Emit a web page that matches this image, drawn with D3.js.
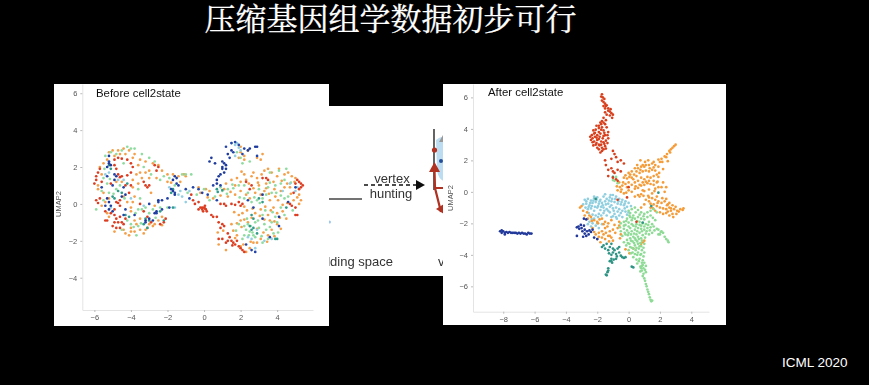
<!DOCTYPE html>
<html>
<head>
<meta charset="utf-8">
<script src="https://cdn.jsdelivr.net/npm/d3@7"></script>
<style>
	html, body { margin: 0; background: #000; overflow: hidden; }
	svg { display: block; }
	.tick text { font-family: "Liberation Sans", sans-serif; font-size: 7.5px; fill: #555; }
	.tick line { stroke: #bbb; }
	.domain { stroke: #e4e4e4; }
	.panel-label { font-family: "Liberation Sans", sans-serif; font-size: 11.4px; fill: #111; }
	.axis-label { font-family: "Liberation Sans", sans-serif; font-size: 7.5px; fill: #555; }
	.title { font-family: "Noto Serif CJK SC", "Noto Sans CJK SC", serif; font-size: 31px; fill: #fff; stroke: #fff; stroke-width: 0.3px; }
	.credit { font-family: "Liberation Sans", sans-serif; font-size: 13.5px; fill: #fff; }
	.frag-text { font-family: "Liberation Sans", sans-serif; font-size: 13px; fill: #333; }
</style>
</head>
<body>
<div id="chart"></div>
<script>
const titleText = '压缩基因组学数据初步可行';
const creditText = 'ICML 2020';
const yLabel = 'UMAP2';
const beforeTicksX = [-6, -4, -2, 0, 2, 4];
const beforeTicksY = [-4, -2, 0, 2, 4, 6];
const afterTicksX = [-8, -6, -4, -2, 0, 2, 4];
const afterTicksY = [-6, -4, -2, 0, 2, 4, 6];

// values, flat x,y pairs
const beforeRed = [-5.9,1.3,-6,1.1,-5.9,1.5,-5.8,1.7,-5.7,1.9,-5.6,1.2,-5.9,0.2,-5.8,0.05,-5.7,0.3,-5.4,-0.4,-5.4,-0.9,-4.9,2.4,-4.7,2.5,-4.5,2.45,-4.2,2.4,-4,2.2,-3.9,2,-4,1.7,-4.2,1.55,-4.5,1.5,-4.7,1.6,-4.8,1.9,-4.9,2.1,-4.6,1.45,-4.9,-0.6,-4.8,-0.8,-4.6,-0.7,-4.7,-1,-4.5,-1,-4.9,-1,-5,-1.2,-4.8,-1.3,-4.6,-1.3,-4.4,-1.1,-4.3,-0.8,-4.9,-0.3,-4.6,-0.1,-3.3,1.2,-3.2,1,-3,1,-3.1,0.9,-2.7,2.1,-2.5,2,-2.6,1.8,-3.5,0,-3.3,-0.4,-3.1,-0.7,-2.1,-0.8,-2.2,-1,-2.4,-1.1,-2.9,-1,-5.3,-0.9,-5.1,-0.5,-4.6,0.2,-4.7,0.05,-4.8,0.1,-4.1,0.6,-4,1,-4.3,1,-5.1,1.1,-0.7,0.5,-0.6,0.2,-0.5,0,-0.3,0.1,-0.2,-0.2,-0.1,-0.3,0,-0.2,0.1,-0.3,0.05,-0.1,-0.05,-0.4,0.15,-0.4,-0.3,-0.3,-0.1,-0.2,0.05,-0.25,0.4,-0.6,0.5,-0.7,0.7,-0.7,0.8,-1,1,-1.1,0.9,-1.3,1.1,-1.2,1.3,-1.6,1.4,-1.8,1.5,-2,1.3,-2,1.6,-2.1,1.7,-2.2,1.8,-2,1.55,-2.25,1.9,-2.3,2,-2.4,1,-1.9,0.8,-1.9,1.2,-2.1,2.1,-2.5,2.2,-2.6,0.9,0,1.1,0,1.2,-0.1,1.5,0,1.7,-0.05,2,-0.1,2.1,0,1.9,0.1,5.2,1.2,5.3,1.1,5.4,1,5.1,1.3,5,1.1,5.3,0.9,5.2,0.8,4.9,0.6,4.7,0,4.8,-0.1,5,-0.2,5.1,-0.6,5,-0.6,3.4,1.4,3.5,1.3,3.2,1.4,2.3,1.2,2.6,1,2.5,0.8];
const beforeOrange = [-5.7,2,-5.6,1.6,-5.2,2.8,-5,2.9,-4.7,2.9,-4.4,3,-4.1,2.9,-3.8,2.7,-3.5,2.4,-3.2,2.3,-2.8,2.2,-2.5,2.1,-2.3,1.8,-2,1.6,-1.7,1.6,-1.4,1.5,-1.1,1.6,-1.3,1.2,-5.8,0.8,-5.5,0.6,-5.4,0.1,-5.2,-0.7,-4.4,0.4,-4.2,0.1,-4,-0.2,-4,-1.5,-4.3,-1.6,-4.1,-1.7,-3.8,-1.5,-3.5,-1.4,-3.3,-1.6,-3.2,-1.4,-3,-1.1,-2.7,-1.1,-2.5,-0.9,-3.8,0.4,-3.9,0.9,-3.4,1.4,-3.6,1.1,-1,1.5,-0.3,0.9,-0.2,0.6,0.1,0.8,0.3,0.7,0.5,0.3,1.1,0.8,1.5,1.3,1.7,1,1.8,1.4,2,1.2,2.2,1.6,2.3,1.3,2.6,1.5,2.7,1.7,2.9,1.4,3,1,3.3,1.8,3.5,1.9,3.7,1.7,3.8,1.2,4,1.5,4.1,1.9,4.4,1.6,4.6,1.7,4.8,1.5,5,1.4,5.2,0.5,5.3,0.2,5.2,0,4.4,0.9,4.2,0.7,3.9,0.4,3.6,0.2,3.3,0.7,3.1,0.5,2.8,0.6,2.5,0.3,2.3,0.5,2,0.7,1.7,0.5,2.1,-0.5,2,-0.9,1.9,-0.6,2.4,-1,2.8,-0.5,3.1,-0.3,3.5,-0.6,3.8,-0.2,4,-0.5,4.3,-0.4,4.5,-0.8,4,-1.1,3.7,-1.4,3.5,-1.7,3.1,-1.9,2.9,-2.1,2.5,-2.4,2.3,-2.6,2,-2.3,1.8,-1.7,1.5,-1.1,1.2,-2.5,0.8,-2.2,2,2.8,2.2,2.6,2.4,2.9,2.2,2.4,1.9,2.5,2,3.1,2.9,2.5,3.2,2.7,3.1,2.4,3.4,1.1,3.6,-0.9,4.7,0.9,4.9,0.2,2.7,-2.1];
const beforeOrangeMore = [-5.8,1,-5.5,2.2,-5.3,2.4,-4.9,2.6,-4.6,2.7,-4.3,2.7,-3.9,2.5,-3.6,2.1,-3.7,1.6,-3.5,1.7,-3.9,1.3,-4.5,1.2,-4.8,1.2,-5.2,0.3,-5.6,-0.1,-5.3,-0.5,-4.9,-1.5,-4.4,-1.4,-4,-1.3,-3.7,-1.1,-3.5,-0.8,-3.8,-0.9,-4,-0.4,-3.9,0.1,-3.1,-1.3,-2.8,-1.2,-2.3,-1.15,-2.3,-0.7,-2.7,-0.1,-2.9,0.6,-3,1.4,-3.2,1.7,-3,1.8,-2.6,1.4,-2,1.2,-1.8,1.15,0.2,0.35,0.9,0.45,1.3,0.4,1.2,1.1,1.45,0.65,2.05,1.75,2.45,1.1,2.7,0.85,2.95,1.15,3.15,1.6,3.4,0.85,3.55,0.55,3.85,0.8,4.05,0.2,4.25,1.25,4.55,1.1,4.75,0.55,4.95,1.2,5.1,0.35,4.55,0.05,4.3,-0.05,4.15,-0.75,3.85,-0.95,3.65,-0.35,3.35,-0.15,3.3,-0.85,3.05,-0.65,2.65,-0.25,2.35,-0.35,2.2,-0.15,1.65,-0.45,1.8,-1.05,1.6,-1.45,2.05,-1.25,2.2,-0.85,2.6,-0.75,2.9,-1.35,3.25,-1.55,3.45,-2.05,3.85,-1.75,4.2,-1.35,2.55,-2.05,2.15,-2.2,1.7,-1.85,1.05,-1.45,0.75,-1.55];
const beforeGreen = [-5.4,2.6,-5.1,2.8,-4.8,2.7,-4.5,2.9,-4.2,3.1,-4,3,-3.8,3,-3.4,2.7,-3,2.5,-2.7,2.3,-5.5,1.4,-5.3,1.1,-5.2,0.6,-5.6,0.7,-5.5,0.2,-5.9,-0.3,-4.8,0.8,-4.6,1,-3.6,0.8,-3.5,0.3,-3.4,-0.3,-3.6,-0.3,-3.2,-0.2,-3,-0.5,-2.8,-0.3,-2.4,-0.2,-2,-0.2,-4.2,-0.9,-4,-1.1,-4.5,-1.4,-3.7,-1.7,-3.6,-1.2,-1.9,1.4,-1.6,1,-1.2,1.6,-1,1.6,-0.7,1.6,-2.2,1.5,-2.4,1.3,-0.9,0.6,-0.4,0.5,0,0.8,0.3,0.2,0.6,0.4,0.9,0.9,1,0.7,1.3,0.8,1.6,0.85,1.9,1,2.2,0.3,2.6,0.1,2.9,0.2,3,0.8,3.2,0.3,3.4,0.5,3.5,0.9,3.7,0.6,3.9,1,4.2,1.1,4.4,1.3,4.1,1.8,4.5,1.9,3.6,1.7,2.8,-1,2.4,-1.1,2.3,-1.4,2.5,-1.5,2.7,-1.7,3,-1.3,3.3,-1.1,3.4,-1.4,3.7,-1,3.9,-0.7,2.2,-1.7,1.9,-1.1,2.1,-1.9,2.8,-1.8,3.2,-2.1,3.5,-1.9,3.8,-1.6,4,-1,4.2,-0.2,4.4,0.3,4.6,0.4,2,2.5,2.1,2.2,2.5,2.3,1.8,2.8];
const beforeGreenMore = [-5.45,1.9,-4.4,2.2,-4.95,0.55,-4.35,0.3,-3.75,-0.5,-3.85,-1.25,-3.45,-1.05,-2.65,-0.75,-5.15,1.35,-3.3,2,-2.9,1.6,1.25,0.55,1.55,1.05,2.4,0.6,2.75,0.35,3.05,0.05,3.35,-0.35,3.6,1.15,3.95,0.6,4.2,0.45,4.4,-0.6,3.75,-0.45,3.2,-0.6,2.95,-0.9,2.55,-1.2,2.35,-0.8,2.65,-1.55,3.15,-1.75,3.6,-1.25,4.05,-1.55,1.75,-1.45,2.45,-1.7,2.2,-1.2,1.95,0.35,2.2,1,4.75,1.15,4.85,-0.35];
const beforeBlue = [-5.6,0.9,-5.3,1.5,-5,1,-4.9,1.6,-4.4,0.9,-5.2,2.3,-4.3,-0.3,-4.4,-0.6,-5.4,-0.1,-3,0,-2.5,0.1,-2.3,-0.3,-2.6,-0.5,-2,0.3,-1.8,0.8,-1.6,0.6,-1.5,1.1,-1,0.8,-0.6,0.9,-0.3,0.8,-0.1,0.6,-0.8,0.3,1.2,3.1,1.5,3.3,1.7,3.35,1.9,3.2,1.6,2.8,2.1,2.7,2.2,3,1.4,2.5,0.7,0.2,0.9,1,2.4,0.2,2.7,-0.2,3.2,-0.8,3.6,-1.8,4.1,-1.2,4.6,0.1,5,0.9,-3.8,-0.6,-3.2,-1,-1.9,-0.2,0.5,1,0.2,0.5,2.3,-2.2,2.6,-2.5,2.8,-2.6,2.9,2.6];
const beforeTeal = [-5.2,2.1,-5.1,1.9,-4.7,0.7,-4.5,0.6,-4.3,-0.6,-4.1,-0.7,-3.3,-1.1,-3.2,-0.8,-3.1,-1.3,-3,-0.9,-2.4,-0.4,-1.7,0.8,-1.8,0.6,-1.7,-0.2,0.7,0.8,0.75,0.65,1,0.75,2.6,-0.6,2.7,-0.8,2.5,-1.2,2.6,-1.4,2.7,-1.3,2.9,-1.6,3,0.3,3.2,0.1,3.9,-1.9,4,-1.9,4.5,-0.2,-5,0.4,-4.9,0.3,-4.2,1.1,-2.2,-0.9];
const beforeNavy = [-5.2,2.6,-5.2,2.2,-5.1,2.1,-5.3,2,-4.9,1.3,-4.8,1.5,-5.3,0.3,-5.2,0.1,-5.1,-0.1,-5.2,-0.3,-5,-0.4,-4.5,0.4,-4.3,0.5,-3.2,-0.9,-3,-0.8,-2.8,-0.9,-2.7,-0.5,-2.6,-0.4,-2.5,0.2,-2.3,0.2,-1.7,1.3,-1.6,1.5,-1.5,1.4,-1.4,1,-1.7,0.7,-1.6,0.5,1,2.3,1,2,1.1,2.2,1,1.9,1.1,1.7,1.2,1.9,1.2,2.1,0.9,1.6,0.8,1.5,0.7,1.3,0.7,1.1,0.4,2.5,0.3,2.3,0.6,2.2,1.5,2.9,1.3,2.7,2.4,2.9,2.5,3,2.8,3.1,2.9,3.1,3.2,0.5,4.1,-0.7];
const beforeLight = [-5.2,1.7,-5.4,1.6,-4.7,1.3,-4.4,1.3,-5.1,-0.2,-4,0.3,-3.3,-0.1,-1.9,0.9,-1.4,0.5,-1.2,0.4,-1,0.1,-0.8,0.7,-1.3,0.7,-1.6,-0.2,1.5,3.3,1.8,3.3,1.9,3.05,1.7,3.2,2,2.9,1.7,2.6,5.1,0.9,5,0.7,4.7,1.1,3.3,-2,3.7,-1.9,2.4,-1.8,2.6,-1.9,2.8,-2.4,2.9,-1.4,4.3,0.7];

const afterRed = [-1.7,6.2,-1.65,6,-1.7,5.8,-1.6,5.7,-1.5,5.6,-1.4,5.5,-1.5,5.3,-1.3,5.3,-1.2,5.1,-1.1,5,-1,4.9,-1.05,4.7,-1.4,4.9,-1.6,4.7,-1.7,4.5,-1.8,4.4,-1.9,4.2,-1.7,4.1,-1.5,4.3,-1.4,4.1,-1.6,3.9,-1.3,3.8,-1.5,3.6,-1.3,3.4,-1.35,3.1,-1.5,2.9,-1.7,2.6,-1.8,2.5,-1.7,2.8,-1.9,2.7,-1.9,3,-2,2.8,-2.1,3,-2.2,3.2,-2.3,3.4,-2.4,3.3,-2.35,3.6,-2.2,3.7,-2.25,3.9,-2.1,3.95,-2.15,3.5,-2,3.6,-2,3.3,-1.85,3.5,-1.8,3.7,-1.65,3.4,-1.6,3.15,-1.75,3.2,-1.9,3.8,-1.55,3.05,-1,2.6,-0.9,2.4,-0.8,2.2,-0.5,2,-0.3,1.8,-1.5,2,-1.45,1.7,-1.3,1.4,-1.1,1.5,-1,1.3,-0.9,1.2,-0.7,1.4,-0.5,1.3,-1.3,1,-1,0.9,-0.8,0.8,-0.7,0.7,-1.1,2.1,-0.7,1.9,0.5,-1.9,-0.7,-0.5,0,0.3,-0.1,-0.35];
const afterRedMore = [-1.75,6.05,-1.55,5.9,-1.6,5.45,-1.45,5.45,-1.3,5.15,-1.15,5.25,-1.2,4.85,-1.5,5.05,-1.6,4.4,-1.45,4.55,-1.75,4.3,-2.05,4.2,-1.9,4.05,-2.15,3.75,-1.55,3.75,-1.75,3.95,-2.3,3.15,-2.05,3.1,-1.85,2.95,-2.25,2.95,-2.05,3.45,-1.75,3,-1.6,2.7,-1.45,3.25,-1.45,2.75,-1.6,3.55,-1.35,3.6,-2.45,3.5,-1.9,3.35];
const afterOrange = [3,3,2.9,2.9,2.8,2.8,2.7,2.7,2.6,2.6,2.65,2.5,2.45,2.4,2.3,2.25,2.4,2.2,2.1,2.1,2,1.9,1.9,2.05,1.6,1.9,1.7,1.7,1.5,1.8,1.3,1.7,1,1.6,0.9,1.7,0.8,1.6,0.6,1.5,0.4,1.5,0.2,1.3,0.1,1.1,0,1.2,-0.2,1.05,-0.3,0.9,-0.1,0.85,0.2,0.9,0.35,1.1,0.5,1,0.7,1.2,0.9,1.3,1.1,1.35,1.3,1.3,1.5,1.4,1.7,1.35,1.8,1.1,1.95,1.2,1.9,1.6,1.6,1,1.4,0.9,1.2,0.95,1,0.8,0.8,0.9,0.6,0.7,0.4,0.6,0.2,0.45,0,0.6,-0.2,0.5,-0.4,0.4,-0.55,0.3,-0.7,0.1,-0.5,0,-0.3,-0.1,0,0.1,0.2,0,0.4,0.2,0.6,0.25,0.8,0.4,1,0.45,1.2,0.55,1.4,0.5,1.6,0.7,1.8,0.6,1.7,0.2,1.5,-0.1,1.3,0.15,1,0.05,0.8,-0.15,0.6,-0.2,0.4,-0.3,2.4,0.3,2.3,0,2.1,0.3,1.1,-0.5,1.3,-0.6,1.5,-0.4,1.7,-0.5,1.9,-0.6,2.1,-0.7,2.3,-0.6,2.5,-0.8,1.6,-0.8,1.8,-0.9,2,-1,2.2,-1.05,2.4,-1.1,2.6,-1,2.7,-1.2,2.9,-1.1,3.1,-1.2,3.3,-1.1,3.45,-1.15,3.5,-1.05,3.2,-1.25,2.8,-1.4,2.6,-1.5,2.4,-1.35,2.2,-1.4,2,-1.3,1.7,-1.2,1.4,-1,1,-0.8,0.8,-1,-3.1,-1,-3,-0.9,-2.9,-1.2,-2.8,-1.5,-2.6,-1.7,-2.4,-1.6,-2.2,-1.8,-2,-1.9,-1.7,-1.7,-1.5,-1.9,-1.3,-2,-1.1,-1.8,-0.9,-2.1,-0.7,-2.3,-1,-2.4,-1.2,-2.5,-1.5,-2.3,-1.7,-2.5,-1.9,-2.6,-2.1,-2.7,-2,-3,-1.7,-2.9,-1.5,-3,-1.3,-2.8,-1.1,-2.9,-1,-3.1,-1.8,-3.2,-0.5,-2.7,-2.3,-2.3,-0.6,-1.9,0.9,-3.2,1,-3.1,0.8,-3.3,0.05,-3.9];
const afterOrangeMore = [0.75,2,1.05,1.9,1.25,2,1.6,1.55,1.35,1.5,1.1,1.7,0.75,1.4,0.5,1.3,0.55,1.7,0.3,0.8,0.05,0.95,-0.1,0.3,-0.35,0.6,-0.6,0.6,-0.75,0.35,-0.45,0.15,-0.15,-0.05,0.45,0.35,0.7,0.45,0.9,0.6,1.1,0.65,1.3,0.7,1.6,0.45,1.85,0.65,1.9,0.95,2.2,1.45,2.15,1.9,2.5,1.95,2.2,0.6,0.7,-0.3,0.95,-0.25,1.25,-0.25,0.9,0.1,1.65,0.05,1.9,0.3,1.8,-0.3,2.15,-0.4,2.4,-0.45,2.6,-0.7,2.8,-0.85,3,-0.95,2.45,-0.85,3.05,-1.4,2.85,-1.6,2.5,-1.25,1.55,-1.05,1.85,-0.7,1.4,-0.75,2.7,-1.05,1.3,-0.35,-2.65,-1.3,-2.5,-1.5,-2.35,-1.85,-1.95,-2,-1.85,-1.75,-1.35,-2.2,-1.6,-2.05,-1.2,-2.8,-1.6,-2.7,-1.9,-2.85,-0.85,-2.6,-0.6,-2.15,-0.55,-2.95,-1.45,-2.6,-1.25,-3.15,-2.2,-2.55,-0.2,-3.65,0.3,-3.6];
const afterLight = [-2.8,-0.5,-2.6,-0.45,-2.4,-0.55,-2.2,-0.4,-2,-0.35,-1.8,-0.5,-1.6,-0.3,-1.4,-0.45,-1.2,-0.35,-1,-0.2,-0.8,-0.3,-0.6,-0.45,-0.4,-0.5,-0.2,-0.6,0,-0.7,-2.9,-0.8,-2.7,-0.75,-2.5,-0.85,-2.3,-0.7,-2.1,-0.65,-1.9,-0.75,-1.7,-0.7,-1.5,-0.6,-1.3,-0.75,-1.1,-0.6,-0.9,-0.65,-0.7,-0.75,-0.5,-0.8,-0.3,-0.85,-0.1,-0.95,0.15,-0.9,-2.6,-1.1,-2.4,-1.05,-2.2,-1.2,-2,-1,-1.8,-1.15,-1.6,-1,-1.4,-1.1,-1.2,-0.95,-1,-1.05,-0.8,-1,-0.6,-1.1,-0.4,-1.2,-0.2,-1.25,0,-1.3,-2.3,-1.45,-2.1,-1.5,-1.9,-1.4,-1.6,-1.35,-1.2,-1.3,-0.9,-1.4,-0.6,-1.5,-0.4,-1.6,-2.5,-1.9,-2.3,-2,-2.1,-2.15,-2.4,-2.2,-1.9,-2.3,-1.7,-2.05,-1.1,-1.6,-0.75,-1.7];
const afterLightMore = [-2.7,-0.6,-2.45,-0.7,-2.25,-0.55,-2.05,-0.5,-1.85,-0.6,-1.65,-0.85,-1.45,-0.8,-1.25,-0.55,-1.05,-0.45,-0.85,-0.45,-0.65,-0.6,-0.45,-0.65,-0.25,-0.75,-2.75,-1,-2.55,-0.95,-2.35,-0.9,-2.15,-0.95,-1.95,-0.9,-1.75,-0.95,-1.55,-1.2,-1.3,-1.2,-1.1,-0.85,-0.95,-1.2,-0.7,-1.25,-0.5,-1.35,-0.25,-1.05,-0.1,-1.45,-2.55,-1.35,-2.2,-1.7,-1.95,-1.6,-1.75,-1.5,-1.4,-1.5,-1,-1.55,-0.8,-1.6,-2.35,-1.75,-2,-2,-2.6,-2.05,-2.2,-0.3,-1.5,-0.15,-1.15,-0.2];
const afterGreen = [0,-1.2,0.2,-1.1,0.4,-1,0.6,-1.15,0.8,-1.3,1,-1.4,0.3,-1.5,0.1,-1.6,-0.1,-1.7,-0.3,-1.9,-0.5,-2,-0.2,-2.1,0,-1.95,0.2,-1.8,0.4,-1.7,0.6,-1.6,0.8,-1.7,1,-1.75,1.2,-1.6,1.4,-1.5,1.3,-1.9,1.1,-2.05,0.9,-2,0.7,-1.9,0.5,-2.05,0.3,-2.15,0.1,-2.3,-0.1,-2.45,-0.3,-2.35,-0.5,-2.5,-0.4,-2.8,-0.2,-2.7,0,-2.6,0.2,-2.5,0.4,-2.4,0.6,-2.3,0.8,-2.35,1,-2.4,1.2,-2.3,1.4,-2.25,1.6,-2.2,1.8,-2.35,1.5,-2.6,1.3,-2.7,1.1,-2.65,0.9,-2.75,0.7,-2.6,0.5,-2.7,0.3,-2.85,0.1,-2.95,-0.1,-3.05,-0.3,-3.2,-0.15,-3.4,0.05,-3.3,0.25,-3.15,0.45,-3.05,0.65,-3,0.85,-3.1,1,-3.3,0.8,-3.45,0.6,-3.3,0.4,-3.4,0.2,-3.55,0,-3.7,0.25,-3.85,0.45,-3.7,0.65,-3.6,0.85,-3.7,1,-3.85,0.8,-3.95,0.55,-4,0.3,-4.15,0.5,-4.3,0.7,-4.25,0.9,-4.35,1,-4.5,0.9,-4.65,0.75,-4.75,0.95,-4.85,1.1,-4.7,0.85,-5,0.95,-5.2,0.75,-5.05,0.9,-5.35,1,-5.5,1.05,-5.65,1.1,-5.85,1.15,-6,1.2,-6.2,1.25,-6.35,1.3,-6.5,1.4,-6.85,1.45,-6.95,1.5,-6.9,1.35,-6.7,1.9,-2.7,2.1,-2.5,2,-2.7,1.9,-2.4,2.05,-2.55,2.2,-2.6,2.3,-2.85,2.4,-3,2.5,-3.1,2.55,-3.2,1.6,-1.1,1.8,-1.3,1.4,-1.2,-0.8,0.95,-0.9,0.7,-0.7,0.55,-1,0.75];
const afterGreenMore = [0.1,-1.35,0.45,-1.3,0.7,-1.45,0.95,-1.55,1.2,-1.3,1.55,-1.65,1.7,-1.8,0.25,-1.65,0.55,-1.85,0.8,-2.15,1,-2.2,1.25,-2.1,1.5,-2.05,1.65,-2.45,1.35,-2.45,1.15,-2.5,0.85,-2.5,0.55,-2.5,0.35,-2.65,0.15,-2.7,-0.05,-2.75,-0.25,-2.6,-0.55,-2.25,-0.3,-2.15,0,-2.2,0.2,-2.05,-0.15,-1.85,0.05,-1.5,0.7,-2.1,0.45,-2.2,1.05,-2.9,0.8,-2.95,0.6,-2.85,0.4,-2.95,0.15,-3.1,-0.05,-3.25,0.35,-3.25,0.55,-3.15,0.75,-3.25,0.95,-3.55,0.7,-3.45,0.5,-3.55,0.3,-3.6,0.1,-3.5,0.15,-3.9,0.4,-3.95,0.6,-3.85,0.75,-4,0.95,-4.1,0.65,-4.4,0.85,-4.5,0.55,-4.55,0.8,-4.85,1.05,-4.95,1.1,-5.1,0.85,-4.7];
const afterTeal = [-1.7,-3.5,-1.6,-3.4,-1.4,-3.3,-1.5,-3.6,-1.3,-3.7,-1.2,-3.5,-1.1,-3.3,-1,-3.6,-1.25,-3.9,-1.1,-4,-1,-3.85,-0.9,-3.7,-0.8,-3.95,-0.75,-4.1,-0.6,-3.85,-0.5,-4.05,-0.4,-4.15,-0.3,-4.2,-0.2,-4.15,-0.8,-4.25,-0.95,-4.3,-1.1,-4.25,-1.2,-4.4,-1.05,-4.5,-1.1,-4.4,-0.7,-3.6,-0.6,-3.5,-1.3,-5,-1.35,-5.1,-1.4,-5.3,-1.45,-5.25,-1.3,-4.85,0.2,-4.75,0.3,-4.8,1.9,-0.05,1.45,-0.9,-1,0.95,-2.1,-0.45,0.9,-1.95];
const afterNavy = [-8.2,-2.5,-8.1,-2.6,-8,-2.5,-7.9,-2.6,-7.8,-2.55,-8.1,-2.45,-7.9,-2.7,-7.7,-2.6,-7.6,-2.55,-7.5,-2.6,-7.4,-2.6,-7.3,-2.6,-7.2,-2.6,-7.1,-2.65,-7,-2.6,-6.9,-2.65,-6.8,-2.6,-6.7,-2.65,-6.6,-2.65,-6.5,-2.7,-6.4,-2.6,-6.3,-2.65,-6.2,-2.65,-3.3,-2.25,-3.2,-2.2,-3.15,-2.35,-3.05,-2.1,-3,-2.3,-2.95,-2.5,-2.85,-2.15,-2.8,-2.4,-2.8,-2.65,-2.7,-2.8,-2.65,-2.5,-2.55,-2.7,-2.5,-2.45,-2.4,-2.55,-2.3,-2.4,-2.85,-1.7,-2.7,-1.75,-3.3,-2.8,-2.2,-2.9,-2,-3,-2.9,-2.85];

const beforeSeries = [
	{ values: beforeOrange, color: '#f5a04a' },
	{ values: beforeOrangeMore, color: '#f5a04a' },
	{ values: beforeGreen, color: '#8fdca0' },
	{ values: beforeGreenMore, color: '#8fdca0' },
	{ values: beforeLight, color: '#93cfe2' },
	{ values: beforeTeal, color: '#2f9c88' },
	{ values: beforeRed, color: '#dc3d20' },
	{ values: beforeBlue, color: '#2444a8' },
	{ values: beforeNavy, color: '#1e3a9c' }
];
const afterSeries = [
	{ values: afterLight, color: '#90cfe0' },
	{ values: afterLightMore, color: '#90cfe0' },
	{ values: afterOrange, color: '#f59c38' },
	{ values: afterOrangeMore, color: '#f59c38' },
	{ values: afterGreen, color: '#8edb96' },
	{ values: afterGreenMore, color: '#8edb96' },
	{ values: afterTeal, color: '#2f9484' },
	{ values: afterNavy, color: '#21389a' },
	{ values: afterRed, color: '#d8401f' },
	{ values: afterRedMore, color: '#d8401f' }
];

const toPoints = flat => d3.range(0, flat.length, 2).map(i => [flat[i], flat[i + 1]]);

const $svg = d3.select('#chart').append('svg')
	.attr('width', 869)
	.attr('height', 385);

const $defs = $svg.append('defs');
$defs.append('filter').attr('id', 'soft')
	.append('feGaussianBlur').attr('stdDeviation', 0.4);
$defs.append('clipPath').attr('id', 'frag-clip')
	.append('rect')
	.attr('x', 329).attr('y', 106)
	.attr('width', 114).attr('height', 170);

$svg.append('text').attr('class', 'title')
	.attr('x', 390.5).attr('y', 30)
	.attr('text-anchor', 'middle')
	.text(titleText);
$svg.append('text').attr('class', 'credit')
	.attr('x', 782).attr('y', 367)
	.text(creditText);

// pasted figure behind the two umaps
const $frag = $svg.append('g').attr('clip-path', 'url(#frag-clip)').attr('filter', 'url(#soft)');
$frag.append('rect').attr('x', 329).attr('y', 106).attr('width', 114).attr('height', 170).attr('fill', '#fff');
$frag.append('path').attr('d', 'M436,140 Q443,134 446,140 L446,182 Q438,180 437,170 Z').attr('fill', '#bcdcf2');
$frag.append('circle').attr('cx', 441).attr('cy', 161).attr('r', 2).attr('fill', '#24509a');
$frag.append('path').attr('d', 'M439,142 L443,135 L443,142 Z').attr('fill', '#999');
$frag.append('line').attr('x1', 329).attr('x2', 362).attr('y1', 199).attr('y2', 199).attr('stroke', '#444').attr('stroke-width', 1.4);
$frag.append('line').attr('x1', 364).attr('x2', 416).attr('y1', 185).attr('y2', 185).attr('stroke', '#111').attr('stroke-width', 1.5).attr('stroke-dasharray', '4 3');
$frag.append('path').attr('d', 'M416,180 L425,185 L416,190 Z').attr('fill', '#111');
$frag.append('line').attr('x1', 434).attr('x2', 434).attr('y1', 129).attr('y2', 190).attr('stroke', '#111').attr('stroke-width', 1.3);
$frag.append('circle').attr('cx', 434.5).attr('cy', 150).attr('r', 2.6).attr('fill', '#b03020');
$frag.append('path').attr('d', 'M434.5,162 L440,172 L429,172 Z').attr('fill', '#b03020');
$frag.append('path').attr('d', 'M434.5,170 L435,188 L441,212 M435,188 L444,188').attr('fill', 'none').attr('stroke', '#b03020').attr('stroke-width', 2.2);
$frag.append('path').attr('d', 'M436,209 L444,204 L444,214 Z').attr('fill', '#b03020');
$frag.append('circle').attr('cx', 329.5).attr('cy', 222).attr('r', 1.5).attr('fill', '#9cc8ee');
$frag.append('text').attr('class', 'frag-text').attr('x', 392).attr('y', 183).attr('text-anchor', 'middle').text('vertex');
$frag.append('text').attr('class', 'frag-text').attr('x', 391).attr('y', 198).attr('text-anchor', 'middle').text('hunting');
$frag.append('text').attr('class', 'frag-text').attr('x', 393).attr('y', 266).attr('text-anchor', 'end').text('embedding space');
$frag.append('text').attr('class', 'frag-text').attr('x', 438).attr('y', 266).text('v');

function drawPanel(cfg) {
	const scaleX = d3.scaleLinear().domain(cfg.domainX).range(cfg.rangeX);
	const scaleY = d3.scaleLinear().domain(cfg.domainY).range(cfg.rangeY);
	const $g = $svg.append('g').attr('filter', 'url(#soft)');

	$g.append('rect')
		.attr('x', cfg.box[0]).attr('y', cfg.box[1])
		.attr('width', cfg.box[2]).attr('height', cfg.box[3])
		.attr('fill', '#fff');

	$g.append('g')
		.attr('transform', `translate(0,${cfg.rangeY[0]})`)
		.call(d3.axisBottom(scaleX).tickValues(cfg.ticksX).tickSize(2).tickSizeOuter(0).tickPadding(3));
	$g.append('g')
		.attr('transform', `translate(${cfg.rangeX[0]},0)`)
		.call(d3.axisLeft(scaleY).tickValues(cfg.ticksY).tickSize(2).tickSizeOuter(0).tickPadding(3));

	$g.append('text').attr('class', 'axis-label')
		.attr('transform', `translate(${cfg.labelX},${cfg.labelY}) rotate(-90)`)
		.attr('text-anchor', 'middle')
		.text(yLabel);
	$g.append('text').attr('class', 'panel-label')
		.attr('x', cfg.titleX).attr('y', cfg.titleY)
		.text(cfg.title);

	cfg.series.forEach(s => {
		$g.append('g').selectAll('circle')
			.data(toPoints(s.values))
			.join('circle')
			.attr('cx', d => scaleX(d[0]))
			.attr('cy', d => scaleY(d[1]))
			.attr('r', cfg.radius)
			.attr('fill', s.color);
	});
}

drawPanel({
	box: [54, 84, 275, 242],
	domainX: [-6.66, 5.96], rangeX: [82.3, 313],
	domainY: [-5.75, 6.5], rangeY: [310, 84],
	ticksX: beforeTicksX, ticksY: beforeTicksY,
	labelX: 61, labelY: 204,
	title: 'Before cell2state', titleX: 96, titleY: 97,
	series: beforeSeries, radius: 1.35
});

drawPanel({
	box: [443, 84, 283, 241],
	domainX: [-9.93, 5.13], rangeX: [473, 709],
	domainY: [-7.61, 6.85], rangeY: [311.7, 84],
	ticksX: afterTicksX, ticksY: afterTicksY,
	labelX: 453, labelY: 198,
	title: 'After cell2state', titleX: 488, titleY: 96,
	series: afterSeries, radius: 1.35
});
</script>
</body>
</html>
